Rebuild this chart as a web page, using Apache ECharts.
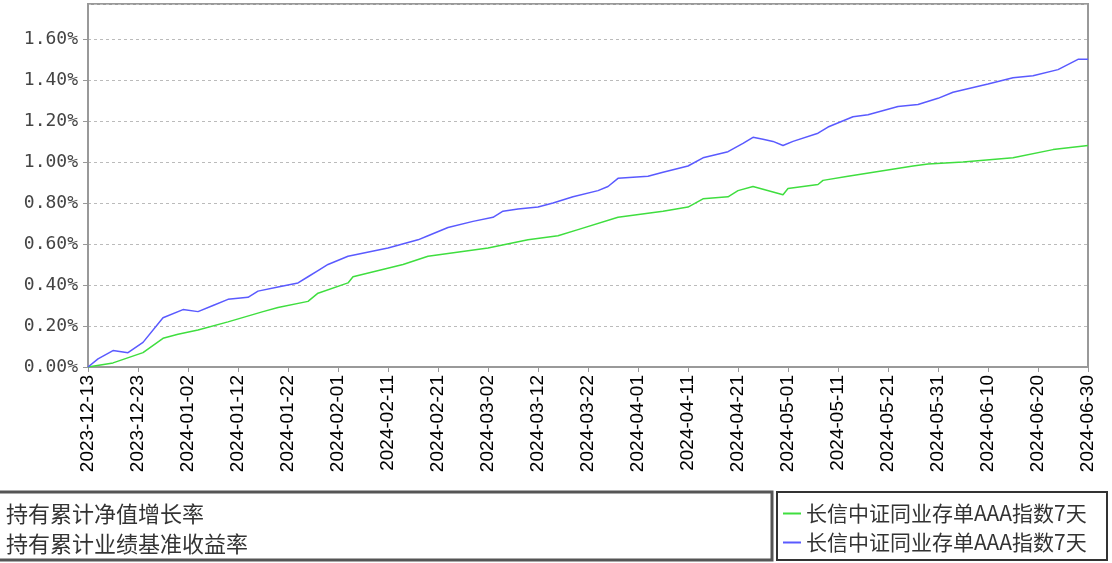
<!DOCTYPE html>
<html>
<head>
<meta charset="utf-8">
<script src="https://cdn.jsdelivr.net/npm/echarts@6/dist/echarts.min.js"></script>
<style>
  html, body { margin: 0; padding: 0; background: #fff; }
  #chart { width: 1112px; height: 563px; }
</style>
</head>
<body>
<div id="chart"></div>
<script>
// x axis runs day by day between these two dates
const FIRST_DAY = '2023-12-13';
const LAST_DAY = '2024-06-30';

const fundPrefix = '长信中证同业存单AAA指数7天';
const navName = fundPrefix + '持有累计净值增长率';
const benchName = fundPrefix + '持有累计业绩基准收益率';

// 持有累计净值增长率 (%)
const navDays = ['2023-12-13', '2023-12-18', '2023-12-24', '2023-12-28', '2023-12-31', '2024-01-04', '2024-01-10',
  '2024-01-17', '2024-01-20', '2024-01-26', '2024-01-28', '2024-02-03', '2024-02-04', '2024-02-14', '2024-02-19',
  '2024-03-02', '2024-03-10', '2024-03-16', '2024-03-20', '2024-03-28', '2024-04-06', '2024-04-11', '2024-04-14',
  '2024-04-19', '2024-04-21', '2024-04-24', '2024-04-30', '2024-05-01', '2024-05-07', '2024-05-08', '2024-05-13',
  '2024-05-26', '2024-05-29', '2024-06-05', '2024-06-15', '2024-06-23', '2024-06-30'];
const navGrowth = [0.00, 0.02, 0.07, 0.14, 0.16, 0.18, 0.22,
  0.27, 0.29, 0.32, 0.36, 0.41, 0.44, 0.50, 0.54,
  0.58, 0.62, 0.64, 0.67, 0.73, 0.76, 0.78, 0.82,
  0.83, 0.86, 0.88, 0.84, 0.87, 0.89, 0.91, 0.93,
  0.98, 0.99, 1.00, 1.02, 1.06, 1.08];

// 持有累计业绩基准收益率 (%)
const benchDays = ['2023-12-13', '2023-12-15', '2023-12-18', '2023-12-21', '2023-12-24', '2023-12-28', '2024-01-01',
  '2024-01-04', '2024-01-07', '2024-01-10', '2024-01-14', '2024-01-16', '2024-01-20', '2024-01-24', '2024-01-26',
  '2024-01-28', '2024-01-30', '2024-02-03', '2024-02-11', '2024-02-17', '2024-02-19', '2024-02-23', '2024-02-28',
  '2024-03-03', '2024-03-05', '2024-03-08', '2024-03-12', '2024-03-15', '2024-03-19', '2024-03-24', '2024-03-26',
  '2024-03-28', '2024-04-03', '2024-04-06', '2024-04-11', '2024-04-14', '2024-04-19', '2024-04-22', '2024-04-24',
  '2024-04-26', '2024-04-28', '2024-04-30', '2024-05-02', '2024-05-07', '2024-05-09', '2024-05-14', '2024-05-17',
  '2024-05-23', '2024-05-27', '2024-05-31', '2024-06-03', '2024-06-10', '2024-06-15', '2024-06-19', '2024-06-24',
  '2024-06-28', '2024-06-30'];
const benchReturn = [0.00, 0.04, 0.08, 0.07, 0.12, 0.24, 0.28,
  0.27, 0.30, 0.33, 0.34, 0.37, 0.39, 0.41, 0.44,
  0.47, 0.50, 0.54, 0.58, 0.62, 0.64, 0.68, 0.71,
  0.73, 0.76, 0.77, 0.78, 0.80, 0.83, 0.86, 0.88,
  0.92, 0.93, 0.95, 0.98, 1.02, 1.05, 1.09, 1.12,
  1.11, 1.10, 1.08, 1.10, 1.14, 1.17, 1.22, 1.23,
  1.27, 1.28, 1.31, 1.34, 1.38, 1.41, 1.42, 1.45,
  1.50, 1.50];

const yTicks = { min: 0, max: 1.77, step: 0.2 };

const days = [];
for (let t = Date.parse(FIRST_DAY); t <= Date.parse(LAST_DAY); t += 86400000) {
  days.push(new Date(t).toISOString().slice(0, 10));
}

const zip = (xs, ys) => xs.map((x, i) => [x, ys[i]]);

const chart = echarts.init(document.getElementById('chart'));

chart.setOption({
  animation: false,
  backgroundColor: '#fff',
  grid: {
    left: 88, right: 24, top: 4, bottom: 196,
    show: true, borderColor: '#999', borderWidth: 2
  },
  xAxis: {
    type: 'category',
    data: days,
    boundaryGap: false,
    axisLine: { lineStyle: { color: '#999', width: 2 } },
    axisTick: { interval: 9, length: 5, lineStyle: { color: '#999' } },
    axisLabel: {
      interval: 9, rotate: 90, margin: 8,
      color: '#000', fontFamily: 'Liberation Sans', fontSize: 19
    },
    splitLine: { show: false }
  },
  yAxis: {
    type: 'value',
    min: yTicks.min, max: yTicks.max, interval: yTicks.step,
    axisLine: { show: true, lineStyle: { color: '#999', width: 2 } },
    axisTick: { show: true, length: 5, lineStyle: { color: '#999' } },
    axisLabel: {
      showMaxLabel: false, margin: 10,
      color: '#444', fontFamily: 'DejaVu Sans Mono', fontSize: 18,
      formatter: v => v.toFixed(2) + '%'
    },
    splitLine: { lineStyle: { color: '#bbb', type: [3, 3] } }
  },
  legend: [
    {
      data: [navName, benchName],
      orient: 'vertical', left: -4, top: 498, itemGap: 8,
      icon: 'none', itemWidth: 0,
      textStyle: { fontFamily: 'Noto Sans CJK SC', fontSize: 22, color: '#333' },
      formatter: name => name.slice(fundPrefix.length)
    },
    {
      data: [navName, benchName],
      orient: 'vertical', left: 778, top: 498, itemGap: 8,
      icon: 'rect', itemWidth: 18, itemHeight: 2, itemStyle: { borderWidth: 0 },
      textStyle: { fontFamily: 'Noto Sans CJK SC', fontSize: 21, color: '#333' },
      formatter: name => name.slice(0, fundPrefix.length)
    }
  ],
  graphic: [
    { type: 'rect', shape: { x: -4, y: 492, width: 776, height: 68 },
      style: { fill: 'none', stroke: '#555', lineWidth: 3 }, silent: true },
    { type: 'rect', shape: { x: 777, y: 492, width: 330, height: 68 },
      style: { fill: 'none', stroke: '#333', lineWidth: 2 }, silent: true }
  ],
  series: [
    {
      name: navName, type: 'line', showSymbol: false,
      lineStyle: { color: '#3fde3f', width: 1.5 }, itemStyle: { color: '#3fde3f' },
      data: zip(navDays, navGrowth)
    },
    {
      name: benchName, type: 'line', showSymbol: false,
      lineStyle: { color: '#5a5aff', width: 1.5 }, itemStyle: { color: '#5a5aff' },
      data: zip(benchDays, benchReturn)
    }
  ]
});
</script>
</body>
</html>
